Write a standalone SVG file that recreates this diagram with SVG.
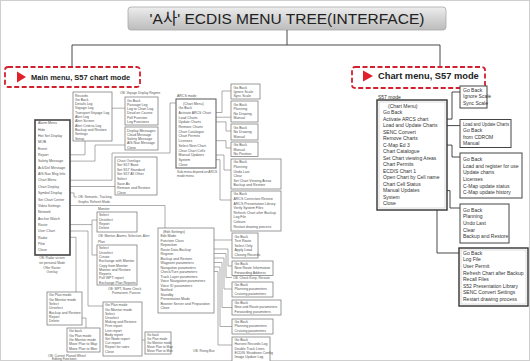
<svg xmlns="http://www.w3.org/2000/svg" width="530" height="361" viewBox="0 0 530 361">
<defs>
<linearGradient id="tg" x1="0" y1="0" x2="0" y2="1">
<stop offset="0" stop-color="#eeeeee"/><stop offset="0.45" stop-color="#d6d6d6"/><stop offset="1" stop-color="#bcbcbc"/>
</linearGradient>
</defs>
<style>
text{font-family:"Liberation Sans","Noto Sans CJK KR",Arial,sans-serif}
.t{font-size:3.5px;fill:#555}
.s{font-size:3.2px;fill:#555}
.r{font-size:5px;fill:#333}
.b{fill:#fff;stroke:#808080;stroke-width:0.8}
.rb{fill:#fff;stroke:#444;stroke-width:1}
.c{fill:none;stroke:#8a8a8a;stroke-width:0.7}
.rc{fill:none;stroke:#333;stroke-width:0.9}
.red{fill:#fff;stroke:#d3202e;stroke-width:1.8;stroke-dasharray:5 2.5}
.lbl{font-weight:bold;fill:#222}
</style>
<rect x="0" y="0" width="530" height="361" fill="#fff"/>
<rect x="0.5" y="0.5" width="529" height="360" fill="none" stroke="#cfcfcf" stroke-width="1"/>

<g id="title">
<rect x="128" y="7" width="318" height="23" rx="3" fill="url(#tg)" stroke="#a8a8a8" stroke-width="0.8"/>
<text x="287" y="24" text-anchor="middle" font-size="15.5" fill="#222">'A사' ECDIS MENU TREE(INTERFACE)</text>
</g>

<g id="connectors">
<path class="rc" d="M287 30V45M72 45H440M72 45V66M440 45V66"/>
<!-- main menu -->
<path class="c" d="M51 154.8H85V141M65 161.1H95V145H125M58 180.2H112V153H170V103H176M63.5 186.5H115M65 192.9H74V197H77M65 205.5H165V228M49 224.6H92M92 220V255M92 220H97M92 255H97M58 231H88V306H103M49 237.3H76V292M82 318H86V328M142 340H145M112 108.2H125"/>
<!-- ARCS -->
<path class="c" d="M216 112.5H222V91H231M216 117.2H231M216 121.9H226V131H231M216 140.7H226V148H231M216 155H224V170H231M216 159.7H220V200H231"/>
<!-- Edit settings -->
<path class="c" d="M214 240H232M214 249H228V266H232M214 253.5H226V277.5H232M214 258H224V289H232M214 262.5H222V307.5H232M214 267H220V326.5H232M214 271.5H218V345H232"/>
<!-- S57 -->
<path class="rc" d="M431 119.1H452V92H460M439.5 125.6H460M412 145.1H452V157H460M422 190.6H450V208H460M402 197.1H437V253H459"/>
</g>

<g id="main-menu-label">
<rect class="red" x="5" y="67" width="135" height="20" rx="3"/>
<polygon points="17,71.5 26,77 17,82.5" fill="#e0202a"/>
<text x="31" y="79.8" font-size="7.5" class="lbl">Main menu, S57 chart mode</text>
</g>
<g id="chart-menu-label">
<rect class="red" x="352" y="67" width="133" height="21" rx="3"/>
<polygon points="363,70.5 373,76 363,81.5" fill="#e0202a"/>
<text x="378" y="79.2" font-size="9.3" class="lbl">Chart menu, S57 mode</text>
</g>

<g id="main-menu">
<rect x="35" y="120" width="35" height="135" fill="#fff" stroke="#444" stroke-width="1.6"/>
<text class="t" x="38" y="124.3"><tspan x="38">Alarm Menu</tspan><tspan x="38" dy="6.35">Hide</tspan><tspan x="38" dy="6.35">Hot Set Display</tspan><tspan x="38" dy="6.35">MOB</tspan><tspan x="38" dy="6.35">Event</tspan><tspan x="38" dy="6.35">Report</tspan><tspan x="38" dy="6.35">Safety Message</tspan><tspan x="38" dy="6.35">Ack/Del Message</tspan><tspan x="38" dy="6.35">AIS Nav Msg Info</tspan><tspan x="38" dy="6.35">Chart Menu</tspan><tspan x="38" dy="6.35">Chart Display</tspan><tspan x="38" dy="6.35">Symbol Display</tspan><tspan x="38" dy="6.35">Set Chart Center</tspan><tspan x="38" dy="6.35">Video Settings</tspan><tspan x="38" dy="6.35">Network</tspan><tspan x="38" dy="6.35">Anchor Watch</tspan><tspan x="38" dy="6.35">Route</tspan><tspan x="38" dy="6.35">User Chart</tspan><tspan x="38" dy="6.35">Radar</tspan><tspan x="38" dy="6.35">Pilot</tspan><tspan x="38" dy="6.35">Close</tspan></text>
<text class="s" text-anchor="middle" x="52" y="259"><tspan x="52">OB: Radar screen</tspan><tspan x="52" dy="4.8">set personal Mode</tspan><tspan x="52" dy="4.8">Offer Raster</tspan><tspan x="52" dy="4.8">Overlay</tspan></text>
<text class="s" x="78" y="198.3"><tspan x="78">OB: Semantic, Tracking,</tspan><tspan x="78" dy="4.2">Graphic Refresh Mode</tspan></text>
</g>

<g id="records">
<rect class="b" x="73" y="92" width="39" height="49"/>
<text class="t" x="75" y="96.5"><tspan x="75">Records</tspan><tspan x="75" dy="4.3">Go Back</tspan><tspan x="75" dy="4.3">Details Log</tspan><tspan x="75" dy="4.3">Voyage Log</tspan><tspan x="75" dy="4.3">Transport Voyage Log</tspan><tspan x="75" dy="4.3">Alert Log</tspan><tspan x="75" dy="4.3">Alert Screen</tspan><tspan x="75" dy="4.3">Alert Criteria Log</tspan><tspan x="75" dy="4.3">Backup and Restore</tspan><tspan x="75" dy="4.3">Settings</tspan><tspan x="75" dy="4.3">Setup</tspan></text>
</g>
<g id="voyage">
<text class="s" x="120" y="93.5">OB: Voyage Display Regime</text>
<rect class="b" x="125" y="97" width="33" height="28"/>
<text class="t" x="127" y="101.5"><tspan x="127">Go Back</tspan><tspan x="127" dy="4.3">Passage Log</tspan><tspan x="127" dy="4.3">Log to Chart Log</tspan><tspan x="127" dy="4.3">Dead on Course</tspan><tspan x="127" dy="4.3">Poll Function</tspan><tspan x="127" dy="4.3">Log Functions</tspan></text>
</g>
<g id="messages">
<rect class="b" x="125" y="127" width="33" height="23"/>
<text class="t" x="127" y="131.5"><tspan x="127">Display Messages</tspan><tspan x="127" dy="4.3">Cloud Message</tspan><tspan x="127" dy="4.3">Safety Message</tspan><tspan x="127" dy="4.3">AIS Nav Message</tspan><tspan x="127" dy="4.3">Close</tspan></text>
</g>
<g id="display">
<rect class="b" x="115" y="157" width="42" height="38"/>
<text class="t" x="117" y="161.5"><tspan x="117">Chart Overlays</tspan><tspan x="117" dy="4.6">Set S57 Base</tspan><tspan x="117" dy="4.6">Set S57 Standard</tspan><tspan x="117" dy="4.6">Set S57 All Other</tspan><tspan x="117" dy="4.6">Select</tspan><tspan x="117" dy="4.6">Save As</tspan><tspan x="117" dy="4.6">Remove and Restore</tspan><tspan x="117" dy="4.6">Close</tspan></text>
</g>

<g id="arcs">
<text class="t" x="177" y="96.8">ARCS mode</text>
<rect x="176" y="99" width="40" height="69" fill="#fff" stroke="#666" stroke-width="1.1"/>
<text class="t" x="178.5" y="104.5"><tspan x="183">(Chart Menu)</tspan><tspan x="178.5" dy="4.7">Go Back</tspan><tspan x="178.5" dy="4.7">Activate ARCS Chart</tspan><tspan x="178.5" dy="4.7">Load Charts</tspan><tspan x="178.5" dy="4.7">Update Charts</tspan><tspan x="178.5" dy="4.7">Remove Charts</tspan><tspan x="178.5" dy="4.7">Chart Catalogue</tspan><tspan x="178.5" dy="4.7">Chart Permits</tspan><tspan x="178.5" dy="4.7">Licenses</tspan><tspan x="178.5" dy="4.7">Select Next Chart</tspan><tspan x="178.5" dy="4.7">Clear Chart Cells</tspan><tspan x="178.5" dy="4.7">Manual Updates</tspan><tspan x="178.5" dy="4.7">System</tspan><tspan x="178.5" dy="4.7">Close</tspan></text>
<text class="s" x="177" y="172.5"><tspan x="177">Sub-menu depend on ARCS</tspan><tspan x="177" dy="4">mode menu</tspan></text>
</g>
<g id="arcs-d1"><rect class="b" x="231" y="84" width="29" height="15"/><text class="t" x="233.5" y="88.5"><tspan x="233.5">Go Back</tspan><tspan x="233.5" dy="4.3">Ignore Scale</tspan><tspan x="233.5" dy="4.3">Sync Scale</tspan></text></g>
<g id="arcs-d2"><rect class="b" x="231" y="101" width="27" height="21"/><text class="t" x="233.5" y="105.5"><tspan x="233.5">Go Back</tspan><tspan x="233.5" dy="4.5">Planning</tspan><tspan x="233.5" dy="4.5">No Drawing</tspan><tspan x="233.5" dy="4.5">Manual</tspan></text></g>
<g id="arcs-d3"><rect class="b" x="231" y="124" width="27" height="16"/><text class="t" x="233.5" y="128.5"><tspan x="233.5">Go Back</tspan><tspan x="233.5" dy="4.5">No Drawing</tspan><tspan x="233.5" dy="4.5">Manual</tspan></text></g>
<g id="arcs-d4"><rect class="b" x="231" y="142" width="27" height="14.5"/><text class="t" x="233.5" y="146.2"><tspan x="233.5">Go Back</tspan><tspan x="233.5" dy="4.3">Manual</tspan><tspan x="233.5" dy="4.3">No Position</tspan></text></g>
<g id="arcs-d5"><rect class="b" x="231" y="159" width="50" height="30"/><text class="t" x="233.5" y="163.3"><tspan x="233.5">Go Back</tspan><tspan x="233.5" dy="4.6">Planning</tspan><tspan x="233.5" dy="4.6">Undo Last</tspan><tspan x="233.5" dy="4.6">Clear</tspan><tspan x="233.5" dy="4.6">Set Chart Viewing Areas</tspan><tspan x="233.5" dy="4.6">Backup and Restore</tspan></text></g>
<g id="arcs-d6"><rect class="b" x="231" y="191" width="50" height="40"/><text class="t" x="233.5" y="195.3"><tspan x="233.5">Go Back</tspan><tspan x="233.5" dy="4.6">ARCS Correction Review</tspan><tspan x="233.5" dy="4.6">ARCS Presentation Library</tspan><tspan x="233.5" dy="4.6">Verify System Files</tspan><tspan x="233.5" dy="4.6">Refresh Chart after Backup</tspan><tspan x="233.5" dy="4.6">Log File</tspan><tspan x="233.5" dy="4.6">Colours</tspan><tspan x="233.5" dy="4.6">Restart drawing process</tspan></text></g>

<g id="monitor">
<text class="t" x="98" y="209.8">Monitor</text>
<rect class="b" x="97" y="212" width="40" height="20"/>
<text class="t" x="99" y="216.3"><tspan x="99">Select</tspan><tspan x="99" dy="4.3">Unselect</tspan><tspan x="99" dy="4.3">Report</tspan><tspan x="99" dy="4.3">Delete</tspan></text>
<text class="s" x="98" y="237">OB: Monitor, Alarms, Selection, Alert</text>
</g>
<g id="plan">
<text class="t" x="98" y="243">Plan</text>
<rect class="b" x="97" y="245" width="40" height="40"/>
<text class="t" x="99" y="249.3"><tspan x="99">Select</tspan><tspan x="99" dy="4.3">Unselect</tspan><tspan x="99" dy="4.3">Create</tspan><tspan x="99" dy="4.3">Exchange with Monitor</tspan><tspan x="99" dy="4.3">Copy from Monitor</tspan><tspan x="99" dy="4.3">Monitor and Restore</tspan><tspan x="99" dy="4.3">Reports</tspan><tspan x="99" dy="4.3">Pull WPT report</tspan><tspan x="99" dy="4.3">Exchange Plan Reports</tspan></text>
<text class="s" x="108" y="289.5"><tspan x="108">OB: WPT, Name Check</tspan><tspan x="112" dy="4.3">Permanent, Passive</tspan></text>
</g>

<g id="user-h1"><rect class="b" x="47" y="292" width="35" height="33"/><text class="t" x="49" y="296.3"><tspan x="49">Go Plan mode</tspan><tspan x="49" dy="4.3">Go Monitor mode</tspan><tspan x="49" dy="4.3">Select</tspan><tspan x="49" dy="4.3">Unselect</tspan><tspan x="49" dy="4.3">Backup and Restore</tspan><tspan x="49" dy="4.3">Report</tspan><tspan x="49" dy="4.3">Delete</tspan></text></g>
<g id="user-h2"><rect class="b" x="67" y="328" width="33" height="24"/><text class="t" x="69" y="332.3"><tspan x="69">Go back</tspan><tspan x="69" dy="4.3">Go Plan mode</tspan><tspan x="69" dy="4.3">Go Monitor mode</tspan><tspan x="69" dy="4.3">Move Plan to Map</tspan><tspan x="69" dy="4.3">Move Plan to Mon</tspan></text></g>
<g id="user-h3"><rect class="b" x="103" y="302" width="39" height="54"/><text class="t" x="105" y="306.3"><tspan x="105">Go Plan mode</tspan><tspan x="105" dy="4.2">Go Monitor mode</tspan><tspan x="105" dy="4.2">Select</tspan><tspan x="105" dy="4.2">Unselect</tspan><tspan x="105" dy="4.2">Making and Restore</tspan><tspan x="105" dy="4.2">Print report</tspan><tspan x="105" dy="4.2">Line report</tspan><tspan x="105" dy="4.2">Body report</tspan><tspan x="105" dy="4.2">Set Node report</tspan><tspan x="105" dy="4.2">Cut report</tspan><tspan x="105" dy="4.2">Report for rates</tspan><tspan x="105" dy="4.2">Close</tspan></text></g>
<g id="user-h4"><rect class="b" x="145" y="332" width="26" height="22"/><text class="s" x="147" y="336.3"><tspan x="147">Go back</tspan><tspan x="147" dy="3.9">Go Plan mode</tspan><tspan x="147" dy="3.9">Go Monitor mode</tspan><tspan x="147" dy="3.9">Move Plan to Map</tspan><tspan x="147" dy="3.9">Move Plan to Mon</tspan></text></g>
<text class="s" x="48" y="356.5"><tspan x="48">OB: Current Planed Wheel</tspan><tspan x="52" dy="3.8">Editing Functions</tspan></text>

<g id="edit-settings">
<rect class="b" x="158" y="228" width="56" height="85"/>
<text class="t" x="160.5" y="232.8"><tspan x="163">(Edit Settings)</tspan><tspan x="160.5" dy="4.5">Edit Mode</tspan><tspan x="160.5" dy="4.5">Function Class</tspan><tspan x="160.5" dy="4.5">Reposition</tspan><tspan x="160.5" dy="4.5">Route Data Backup</tspan><tspan x="160.5" dy="4.5">Register</tspan><tspan x="160.5" dy="4.5">Backup and Restore</tspan><tspan x="160.5" dy="4.5">Waypoint parameters</tspan><tspan x="160.5" dy="4.5">Navigation parameters</tspan><tspan x="160.5" dy="4.5">Check/Turn parameters</tspan><tspan x="160.5" dy="4.5">Track Layer parameters</tspan><tspan x="160.5" dy="4.5">Voice Navigation parameters</tspan><tspan x="160.5" dy="4.5">Voice ID parameters</tspan><tspan x="160.5" dy="4.5">Notified</tspan><tspan x="160.5" dy="4.5">Standby</tspan><tspan x="160.5" dy="4.5">Presentation Mode</tspan><tspan x="160.5" dy="4.5">Booster Server and Preparation</tspan><tspan x="160.5" dy="4.5">Close</tspan></text>
</g>
<g id="edit-e1"><rect class="b" x="232" y="233" width="26" height="25"/><text class="t" x="234.5" y="237.5"><tspan x="234.5">Go Back</tspan><tspan x="234.5" dy="4.5">Test Route</tspan><tspan x="234.5" dy="4.5">Select Only</tspan><tspan x="234.5" dy="4.5">Apply Load</tspan><tspan x="234.5" dy="4.5">Closing Records</tspan></text></g>
<g id="edit-e2"><rect class="b" x="232" y="261" width="41" height="14.5"/><text class="t" x="234.5" y="265"><tspan x="234.5">Go Back</tspan><tspan x="234.5" dy="4.3">New Route Information</tspan><tspan x="234.5" dy="4.3">Forwarding Address</tspan></text></g>
<text class="s" x="233" y="278.8">OB: Check Keep, Reroute</text>
<g id="edit-e3"><rect class="b" x="232" y="282" width="41" height="15"/><text class="t" x="234.5" y="286"><tspan x="234.5">Go Back</tspan><tspan x="234.5" dy="4.3">Planning parameters</tspan><tspan x="234.5" dy="4.3">Cruising parameters</tspan></text></g>
<g id="edit-e4"><rect class="b" x="232" y="300" width="49" height="15"/><text class="t" x="234.5" y="304"><tspan x="234.5">Go Back</tspan><tspan x="234.5" dy="4.3">New and Route parameters</tspan><tspan x="234.5" dy="4.3">Forwarding parameters</tspan></text></g>
<g id="edit-e5"><rect class="b" x="232" y="319" width="41" height="15"/><text class="t" x="234.5" y="323"><tspan x="234.5">Go Back</tspan><tspan x="234.5" dy="4.3">Planning parameters</tspan><tspan x="234.5" dy="4.3">Cruising parameters</tspan></text></g>
<g id="edit-e6"><rect class="b" x="232" y="337" width="38" height="27"/><text class="t" x="234.5" y="341"><tspan x="234.5">Go Back</tspan><tspan x="234.5" dy="4.3">Harvest Records Log</tspan><tspan x="234.5" dy="4.3">Double Track Lines</tspan><tspan x="234.5" dy="4.3">ECDIS Shutdown Config</tspan><tspan x="234.5" dy="4.3">Image Update Log</tspan></text></g>
<text class="s" x="193" y="352">OB: Rising Bus</text>

<g id="s57-menu">
<text class="r" x="378" y="98.5">S57 mode</text>
<rect x="377" y="100" width="70" height="110" fill="#fff" stroke="#333" stroke-width="1.4"/>
<rect x="379" y="102" width="66" height="106" fill="none" stroke="#aaa" stroke-width="0.4"/>
<text class="r" x="383" y="107.9"><tspan x="388">(Chart Menu)</tspan><tspan x="383" dy="6.5">Go Back</tspan><tspan x="383" dy="6.5">Activate ARCS chart</tspan><tspan x="383" dy="6.5">Load and Update Charts</tspan><tspan x="383" dy="6.5">SENC Convert</tspan><tspan x="383" dy="6.5">Remove Charts</tspan><tspan x="383" dy="6.5">C-Map Ed 3</tspan><tspan x="383" dy="6.5">Chart Catalogue</tspan><tspan x="383" dy="6.5">Set Chart viewing Areas</tspan><tspan x="383" dy="6.5">Chart Permits</tspan><tspan x="383" dy="6.5">ECDIS Chart 1</tspan><tspan x="383" dy="6.5">Open Chart by Cell name</tspan><tspan x="383" dy="6.5">Chart Cell Status</tspan><tspan x="383" dy="6.5">Manual Updates</tspan><tspan x="383" dy="6.5">System</tspan><tspan x="383" dy="6.5">Close</tspan></text>
</g>
<g id="s57-scale"><rect class="rb" x="460" y="86" width="27" height="22"/><text class="r" x="463" y="91.8"><tspan x="463">Go Back</tspan><tspan x="463" dy="6.5">Ignore Scale</tspan><tspan x="463" dy="6.5">Sync Scale</tspan></text></g>
<g id="s57-load"><rect class="rb" x="460" y="119.5" width="51" height="28"/><text class="r" x="463" y="125.8"><tspan x="463" textLength="46" lengthAdjust="spacingAndGlyphs">Load and Update Charts</tspan><tspan x="463" dy="6.5">Go Back</tspan><tspan x="463" dy="6.5">from CDROM</tspan><tspan x="463" dy="6.5">Manual</tspan></text></g>
<g id="s57-cmap"><rect class="rb" x="460" y="153" width="62" height="45"/><text class="r" x="463" y="160.8"><tspan x="463">Go Back</tspan><tspan x="463" dy="6.7">Load and register for use</tspan><tspan x="463" dy="6.7">Update charts</tspan><tspan x="463" dy="6.7">Licenses</tspan><tspan x="463" dy="6.7">C-Map update status</tspan><tspan x="463" dy="6.7">C-Map update history</tspan></text></g>
<g id="s57-manual"><rect class="rb" x="460" y="204" width="49" height="39"/><text class="r" x="463" y="211.8"><tspan x="463">Go Back</tspan><tspan x="463" dy="6.6">Planning</tspan><tspan x="463" dy="6.6">Undo Last</tspan><tspan x="463" dy="6.6">Clear</tspan><tspan x="463" dy="6.6">Backup and Restore</tspan></text></g>
<g id="s57-system"><rect x="459" y="248" width="69" height="58" fill="#fff" stroke="#333" stroke-width="1.4"/><rect x="461" y="250" width="65" height="54" fill="none" stroke="#aaa" stroke-width="0.4"/><text class="r" x="463" y="254.8"><tspan x="463">Go Back</tspan><tspan x="463" dy="6.6">Log File</tspan><tspan x="463" dy="6.6">User Permit</tspan><tspan x="463" dy="6.6">Refresh Chart after Backup</tspan><tspan x="463" dy="6.6">Recall Files</tspan><tspan x="463" dy="6.6">S52 Presentation Library</tspan><tspan x="463" dy="6.6">SENC Convert Settings</tspan><tspan x="463" dy="6.6">Restart drawing process</tspan></text></g>
</svg>
